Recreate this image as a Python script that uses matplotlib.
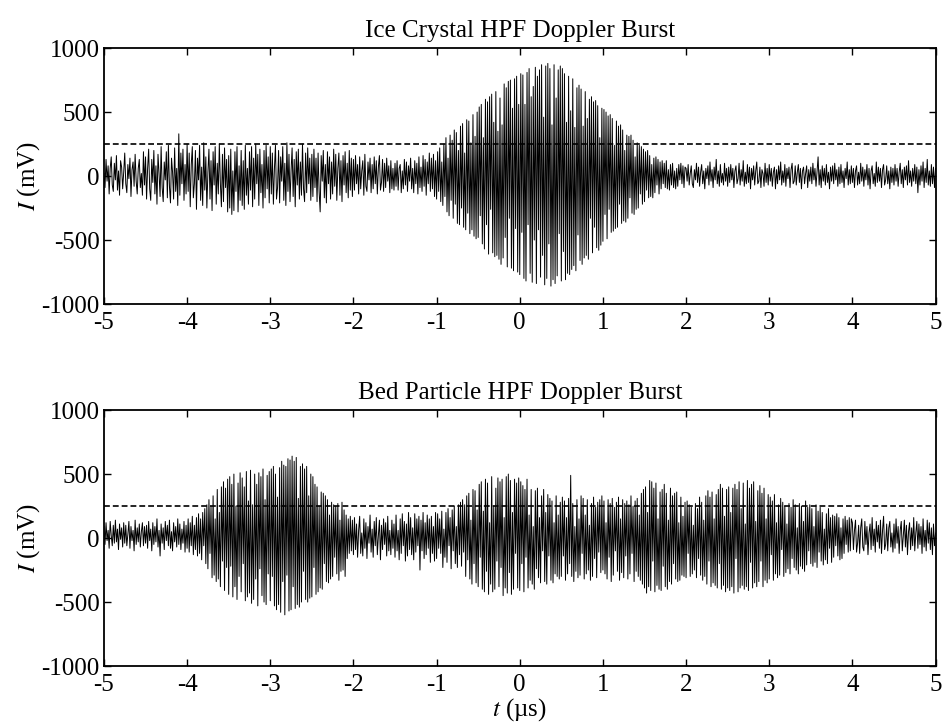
import matplotlib

matplotlib.use("Agg")
import matplotlib.pyplot as plt
import numpy as np

plt.rcParams["font.family"] = ["Liberation Serif", "DejaVu Serif"]
plt.rcParams["mathtext.fontset"] = "stix"
plt.rcParams["axes.unicode_minus"] = False

# both records span -5..5 µs, evenly sampled
T_START, T_END = -5.0, 5.0
THRESHOLD_MV = 250

# Ice crystal burst, mV (two lines = 0.5 µs)
ice_mv = [
    20, -90, 130, -40, 80, -140, 60, 150, -70, -120, 100, -30, 160, -110, 40, -150, 120, 70, -100, 30,
    180, -60, -130, 90, -20, 140, -160, 50, 110, -80, 170, -40, -140, 60, 130, -90, 20, -150, 190, -70,
    150, -180, 60, 210, -100, -190, 130, -50, 200, -140, 80, -220, 170, 20, -160, 230, -90, -200, 110, -30,
    190, -170, 240, -80, -210, 140, 30, -180, 220, -120, 60, -230, 330, -150, 180, -60, 210, -190, 90, -140,
    250, -120, 180, -240, 90, 230, -170, -60, 200, -260, 140, -30, 240, -190, 70, -230, 260, -110, 150, -250,
    30, 210, -180, 120, -270, 190, -70, 230, -220, 100, -140, 250, -60, -240, 170, -200, 220, -90, 130, -280,
    160, -250, 210, -300, 40, -270, 190, -120, 230, -280, 80, -190, 200, -230, 120, -260, 240, -150, 60, -220,
    190, -110, 230, -240, 140, -180, 250, -60, 170, -230, 210, -130, 90, -250, 200, -170, 240, -100, 150, -210,
    230, -140, 180, -220, 60, 240, -180, -90, 200, -210, 150, -40, 230, -190, 100, -230, 260, -120, 170, -200,
    40, 220, -160, 130, -240, 190, -70, 210, -180, 110, -150, 250, -100, -200, 180, -130, 220, -60, 140, -190,
    170, -160, 210, -90, 140, -200, 180, -120, -280, 160, -40, 200, -170, 90, -210, 190, -60, 150, -180, 110,
    -140, 210, -80, 170, -190, 60, 180, -150, 120, -200, 160, -70, 190, -130, 100, -170, 200, -110, 140, -160,
    130, -110, 160, -60, 90, -140, 150, -100, 40, 120, -150, 170, -80, -120, 110, -30, 140, -130, 90, -100,
    150, -60, 120, -140, 70, 160, -110, -50, 130, -120, 100, -90, 140, -40, 80, -130, 120, -100, 60, -110,
    100, -80, 120, -110, 60, 90, -130, 40, -100, 130, -70, 110, -120, 80, -40, 140, -100, 60, -130, 120,
    -60, 100, -140, 150, -90, 70, -120, 160, -80, 130, -150, 110, -60, 180, -120, 140, -100, 170, -160, 120,
    -180, 190, -120, 220, -200, 110, -230, 250, -160, 300, -280, 140, -310, 320, -190, 280, -330, 360, -220, 340,
    -370, 200, -380, 390, -250, 410, -400, 180, -420, 440, -290, 430, -450, 260, -420, 480, -470, 310, -490, 500,
    -480, 540, -310, 560, -530, 300, -570, 600, -380, 580, -610, 620, -260, 640, -600, 420, -630, 660, -620, 350,
    -650, 610, -690, 400, -640, 720, -480, 690, -710, 740, -330, 750, -720, 530, -740, 760, -410, 780, -750, 560,
    -770, 800, -440, 790, -800, 560, -820, 810, -380, 840, -760, 620, -830, 700, -500, 850, -840, 780, -420, 830,
    -790, 870, -620, 460, -850, 860, -800, 880, -530, 840, -860, 400, -810, 870, -840, 610, -780, 830, -450, 860,
    -820, 840, -590, 800, -810, 420, -760, 780, -770, 510, -730, 760, -700, 380, -740, 690, -460, 710, -660, 680,
    -690, 390, -640, 660, -620, 450, -650, 600, -330, 620, -600, 580, -400, 590, -560, 550, -580, 300, -540, 530,
    -510, 520, -300, 500, -490, 470, -260, 480, -440, 450, -430, 240, -410, 430, -400, 390, -220, 400, -370, 360,
    -350, 200, -360, 320, -330, 310, -170, 320, -290, 280, -300, 150, -260, 260, -250, 240, -140, 230, -220, 210,
    -200, 190, -110, 200, -170, 160, -160, 90, -170, 140, -130, 150, -70, 130, -140, 110, -100, 120, -60, 100,
    -90, 120, -100, 50, -110, 90, -70, 100, -90, 40, -100, 60, -80, 90, -30, 100, -60, 80, -90, 70,
    60, -40, 90, -70, 20, 80, -60, -90, 50, -30, 100, -50, 70, -80, 30, 90, -60, 40, -100, 60,
    -20, 80, -70, 110, -40, 50, -90, 70, -30, 130, -60, 40, -80, 90, -50, 20, -70, 100, -40, 60,
    -80, 70, -50, 90, -30, 60, -90, 40, 80, -60, -20, 100, -70, 50, -40, 120, -80, 30, -60, 90,
    -50, 70, -100, 60, -30, 80, -70, 40, 110, -60, -40, 70, -90, 50, 20, -80, 100, -50, 60, -70,
    90, -40, 60, -80, 30, 70, -100, 50, -60, 80, -30, 110, -70, 40, -50, 90, -80, 60, -20, 70,
    -90, 50, 100, -60, -40, 80, -70, 30, 90, -50, 60, -100, 40, 70, -60, 20, 80, -90, 50, -40,
    70, -60, 100, -30, 60, -80, 40, 150, -70, 50, -90, 80, -40, 60, -70, 90, -50, 30, -100, 70,
    -40, 80, -60, 100, -30, 50, -80, 70, -60, 90, -50, 40, -90, 60, -20, 110, -70, 50, -60, 80,
    -50, 60, -90, 40, 80, -70, 30, -60, 100, -40, 70, -80, 50, -30, 90, -70, 60, -100, 40, 80,
    -60, 20, -80, 110, -50, 70, -40, 60, -90, 50, 90, -70, -30, 80, -60, 40, -100, 70, -50, 60,
    -70, 90, -40, 60, -80, 30, 100, -60, 50, -90, 70, -30, 80, -70, 120, -50, 40, -80, 60, -40,
    90, -60, 70, -130, 50, -70, 80, -40, 110, -90, 60, -50, 130, -70, 40, -80, 90, -60, 70, -90,
    60,
]

# Bed particle burst, mV (two lines = 0.5 µs)
bed_mv = [
    90, -50, 120, -20, 60, -80, 130, 20, -60, 100, -40, 140, -30, 70, -90, 110, -10, 80, -70, 120,
    -40, 100, -60, 30, 130, -80, 90, -20, 60, -100, 140, -50, 80, -30, 110, -70, 50, 120, -60, 90,
    -40, 100, -80, 130, -20, 70, -100, 120, -50, 90, -30, 150, -70, 60, -140, 110, -40, 80, -90, 130,
    -20, 100, -60, 140, -80, 50, -100, 120, -30, 90, -70, 150, -50, 110, -90, 70, -40, 130, -110, 100,
    -80, 150, -110, 120, -60, 170, -130, 100, -90, 160, -140, 190, -120, 150, -170, 200, -60, 230, -200, 260,
    -240, 300, -120, 250, -310, 330, -290, 150, -340, 380, -320, 200, -380, 400, -180, 440, -410, 390, -230, 460,
    -440, 480, -220, 420, -460, 500, -380, 250, -480, 430, -300, 510, -420, 470, -200, 400, -490, 520, -460, 290,
    -430, 530, -510, 260, -480, 500, -320, 420, -530, 510, -240, 480, -450, 540, -500, 300, -520, 490, -280, 520,
    -490, 540, -300, 560, -530, 500, -560, 320, -520, 550, -580, 600, -340, 570, -600, 560, -290, 620, -570, 610,
    -560, 640, -380, 600, -550, 630, -520, 310, -540, 560, -500, 580, -260, 540, -480, 560, -500, 330, -470, 500,
    -460, 480, -230, 420, -440, 400, -420, 250, -390, 360, -400, 350, -200, 330, -340, 300, -350, 180, -320, 280,
    -300, 260, -150, 250, -280, 270, -330, 140, -260, 280, -250, 220, -300, 180, -160, 150, -120, 170, -100, 140,
    -130, 160, -90, 110, -150, 60, 170, -120, 40, -140, 150, -80, 120, -160, 90, -40, 180, -110, 70, -150,
    130, -60, 160, -130, 20, 140, -170, 100, -90, 150, -50, 120, -140, 170, -100, 60, -130, 140, -80, 110,
    -150, 180, -100, 60, -170, 150, -120, 190, -60, 130, -180, 110, -140, 200, -90, 160, -130, 80, -170, 190,
    -110, 150, -60, 170, -250, 140, -100, 200, -160, 120, -130, 180, -80, 150, -190, 170, -120, 90, -180, 200,
    -160, 190, -80, 150, -120, 210, -230, 70, -150, 200, -190, 230, -60, 160, -240, 220, -100, 250, -200, 90,
    -230, 260, -130, 280, -220, 300, -110, 260, -300, 330, -170, 350, -320, 140, -360, 380, -200, 370, -350, 220,
    -380, 420, -150, 440, -400, 210, -420, 460, -260, 430, -440, 120, -360, 480, -420, 250, -400, 390, -180, 470,
    -380, 440, -230, 460, -450, 160, -390, 480, -430, 500, -270, 450, -440, 200, -400, 460, -120, 430, -390, 470,
    -410, 440, -200, 410, -420, 380, -150, 460, -390, 180, -330, 380, -360, 90, -400, 370, -240, 390, -310, 160,
    -350, 330, -100, 380, -340, 200, -360, 340, -140, 310, -330, 290, -350, 120, -280, 330, -300, 180, -320, 280,
    -300, 320, -140, 290, -330, 160, -280, 310, -200, 490, -300, 270, -340, 90, -260, 300, -310, 150, -290, 330,
    -120, 310, -320, 180, -280, 300, -250, 100, -330, 270, -300, 320, -160, 240, -310, 280, -110, 300, -270, 330,
    -250, 290, -280, 120, -320, 300, -150, 270, -340, 310, -290, 240, -100, 280, -260, 320, -330, 150, -270, 300,
    -310, 270, -140, 290, -320, 260, -280, 330, -120, 250, -340, 290, -260, 310, -300, 180, -330, 350, -360, 380,
    -390, 400, -430, 200, -380, 450, -410, 440, -180, 390, -420, 430, -370, 150, -400, 360, -410, 380, -220, 420,
    -380, 350, -400, 140, -340, 390, -360, 330, -200, 350, -320, 360, -340, 120, -330, 320, -290, 170, -300, 280,
    -310, 290, -120, 260, -300, 240, -280, 100, -250, 270, -310, 230, -160, 320, -290, 280, -330, 140, -300, 330,
    -360, 370, -180, 320, -380, 360, -350, 150, -370, 340, -390, 380, -200, 420, -400, 390, -370, 170, -420, 380,
    -390, 400, -410, 200, -380, 390, -430, 420, -160, 380, -420, 440, -390, 230, -370, 430, -400, 110, -380, 450,
    -410, 390, -190, 420, -390, 440, -350, 130, -380, 370, -340, 410, -180, 350, -380, 390, -330, 150, -350, 340,
    -320, 320, -130, 290, -330, 340, -280, 120, -310, 260, -290, 310, -90, 280, -300, 250, -270, 110, -240, 270,
    -280, 240, -160, 300, -230, 260, -250, 80, -280, 270, -220, 250, -240, 130, -260, 290, -210, 240, -100, 260,
    -200, 230, -220, 90, -190, 260, -230, 210, -110, 240, -180, 200, -210, 70, -170, 190, -200, 230, -80, 160,
    -190, 180, -150, 170, -60, 190, -140, 160, -170, 80, -160, 150, -120, 170, -50, 140, -110, 160, -100, 150,
    120, -90, 60, 140, -110, -40, 100, -120, 80, 150, -70, -100, 130, -50, 90, -130, 40, 110, -90, 160,
    -60, 70, -110, 130, -30, 100, -80, 140, -120, 60, 170, -90, -50, 110, -100, 80, 130, -70, 40, -110,
    110, -80, 150, -40, 90, -120, 60, 130, -100, 20, 140, -70, 100, -130, 50, 120, -90, 80, -60, 160,
    -100, 40, 130, -80, 110, -50, 90, -120, 150, -70, 60, -100, 140, -40, 120, -90, 80, -130, 110, -60,
    40,
]

titles = ["Ice Crystal HPF Doppler Burst", "Bed Particle HPF Doppler Burst"]
xticks = [-5, -4, -3, -2, -1, 0, 1, 2, 3, 4, 5]
yticks = [-1000, -500, 0, 500, 1000]

FS = 18

fig = plt.figure(figsize=(9.45, 7.23), dpi=100)
ax_top = fig.add_axes([0.110, 0.5795, 0.880, 0.354])
ax_bot = fig.add_axes([0.110, 0.0788, 0.880, 0.354])

for ax, sig, title in zip([ax_top, ax_bot], [ice_mv, bed_mv], titles):
    sig = np.asarray(sig, dtype=float)
    t = np.linspace(T_START, T_END, len(sig))
    ax.plot(t, sig, color="black", lw=0.7)
    ax.axhline(THRESHOLD_MV, color="black", lw=1.2, ls=(0, (3.5, 1.8)))
    ax.set_xlim(-5, 5)
    ax.set_ylim(-1000, 1000)
    ax.set_xticks(xticks)
    ax.set_yticks(yticks)
    ax.tick_params(direction="in", length=5, width=1.0, top=True, right=True,
                   labelsize=FS)
    ax.tick_params(axis="x", pad=6)
    ax.tick_params(axis="y", pad=3)
    for sp in ax.spines.values():
        sp.set_linewidth(1.3)
    ax.set_title(title, fontsize=FS, pad=8)
    ax.set_ylabel(r"$I$ (mV)", fontsize=FS, labelpad=0)

ax_bot.set_xlabel(r"$t$ (µs)", fontsize=FS, labelpad=0)

fig.savefig("out.png", dpi=100)
